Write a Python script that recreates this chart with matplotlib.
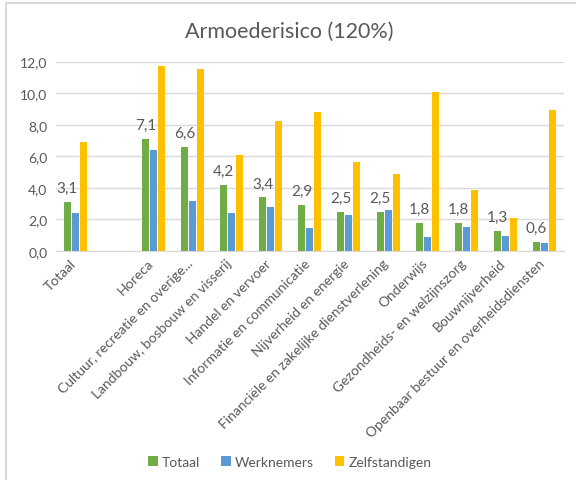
import numpy as np
import matplotlib.pyplot as plt
import matplotlib.transforms as mtransforms
from matplotlib.lines import Line2D

# sectors (empty slot after Totaal, as in the original chart)
categories = ["Totaal", "", "Horeca", "Cultuur, recreatie en overige...",
              "Landbouw, bosbouw en visserij", "Handel en vervoer",
              "Informatie en communicatie", "Nijverheid en energie",
              "Financiële en zakelijke dienstverlening", "Onderwijs",
              "Gezondheids- en welzijnszorg", "Bouwnijverheid",
              "Openbaar bestuur en overheidsdiensten"]
totaal = [3.1, np.nan, 7.1, 6.6, 4.2, 3.4, 2.9, 2.5, 2.5, 1.8, 1.8, 1.3, 0.6]
werknemers = [2.4, np.nan, 6.4, 3.2, 2.4, 2.8, 1.45, 2.3, 2.6, 0.9, 1.55, 0.95, 0.5]
zelfstandigen = [6.9, np.nan, 11.7, 11.5, 6.05, 8.25, 8.8, 5.65, 4.85, 10.1, 3.85, 2.1, 8.95]
series_names = ["Totaal", "Werknemers", "Zelfstandigen"]
colors = ["#70AD47", "#5B9BD5", "#FFC000"]
text_color = "#595959"

plt.rcParams['font.family'] = ['Lato', 'DejaVu Sans']

fig = plt.figure(figsize=(5.76, 4.81), dpi=100)
ax = fig.add_axes([0.097, 0.476, 0.882, 0.394])

x = np.arange(len(categories))
w = 0.18
for i, (vals, name, c) in enumerate(zip([totaal, werknemers, zelfstandigen], series_names, colors)):
    ax.bar(x + (i - 1) * 0.205, vals, w, color=c, label=name, zorder=3)

# data labels for Totaal only
for xi, v in zip(x, totaal):
    if not np.isnan(v):
        ax.annotate(f"{v:.1f}".replace(".", ","), (xi - 0.205, v), xytext=(0, 5),
                    textcoords="offset points", ha="center", va="bottom",
                    fontsize=11, color=text_color)

ax.set_xlim(-0.5, len(categories) - 0.5)
ax.set_ylim(0, 12)
ax.set_yticks(np.arange(0, 13, 2))
ax.set_yticklabels([f"{t:.1f}".replace(".", ",") for t in np.arange(0, 13, 2)])
ax.set_xticks(x)
ax.set_xticklabels(categories, rotation=45, ha="right", rotation_mode="anchor")
ax.tick_params(axis="both", length=0, labelsize=10, colors=text_color)
ax.tick_params(axis="y", pad=6)
ax.tick_params(axis="x", pad=4)
# nudge the rotated labels a bit to the left, like the original
shift = mtransforms.ScaledTranslation(-6 / 100, 0, fig.dpi_scale_trans)
for lbl in ax.get_xticklabels():
    lbl.set_transform(lbl.get_transform() + shift)
ax.grid(axis="y", color="#D9D9D9", linewidth=1, zorder=0)
for s in ["top", "right", "left"]:
    ax.spines[s].set_visible(False)
ax.spines["bottom"].set_color("#D9D9D9")

fig.text(0.503, 0.933, "Armoederisico (120%)", ha="center", va="center",
         fontsize=15.5, color=text_color)

fig.legend(loc="center", bbox_to_anchor=(0.503, 0.037), ncol=3, frameon=False,
           fontsize=10, labelcolor=text_color, handlelength=0.7, handleheight=0.7,
           handletextpad=0.3, columnspacing=1.5)

# light chart border (top and left visible in the original)
fig.add_artist(Line2D([6 / 576, 1], [1 - 4 / 481, 1 - 4 / 481], color="#D9D9D9", linewidth=1.5))
fig.add_artist(Line2D([6 / 576, 6 / 576], [0, 1 - 4 / 481], color="#D9D9D9", linewidth=1.5))

fig.savefig("out.png", dpi=100)
